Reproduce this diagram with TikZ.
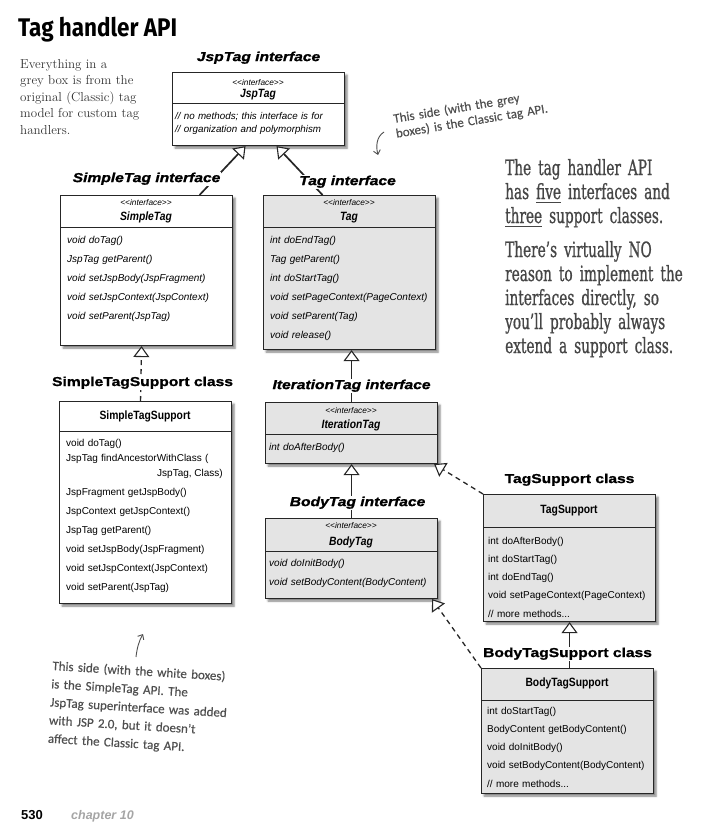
\documentclass[tikz,border=0pt]{standalone}
\usepackage{fontspec}
\usepackage{tikz}
\usetikzlibrary{arrows.meta,shadows.blur,positioning}
\newfontfamily\umlfont{Liberation Sans}
\newfontfamily\umlnarrow[FakeStretch=0.86]{Liberation Sans}
\newfontfamily\umlwide[FakeStretch=1.2,FakeBold=1.2]{Liberation Sans}
\newfontfamily\handfont[FakeBold=0.4]{Carlito}
\newfontfamily\notefont[FakeStretch=0.65,FakeBold=0.8]{DejaVu Serif}
\newfontfamily\titlefont[FakeStretch=0.88]{Fira Sans}
\definecolor{umlgrey}{RGB}{228,228,228}
\definecolor{umlline}{RGB}{38,38,38}
\definecolor{introgrey}{RGB}{50,50,50}
\definecolor{notegrey}{RGB}{70,70,70}
\definecolor{handgrey}{RGB}{80,80,80}
\definecolor{footgrey}{RGB}{165,165,165}
\newcommand{\handul}[1]{\leavevmode\setbox0\hbox{#1}\rlap{\raisebox{-4pt}{\color{notegrey}\rule{\wd0}{1.4pt}}}\box0\relax}
\newcommand{\stereotype}{\textless\textless interface\textgreater\textgreater}
\tikzstyle{umlbox} = [rectangle, draw=umlline, line width=1.1pt, fill=white, anchor=north west, inner sep=0pt, blur shadow={shadow xshift=2.5pt, shadow yshift=-2.5pt, shadow blur radius=2pt, shadow opacity=50}]
\tikzstyle{classic} = [umlbox, fill=umlgrey]
\tikzstyle{divider} = [draw=umlline, line width=1pt]
\tikzstyle{stereo} = [font=\umlfont\itshape\fontsize{8.3}{10}\selectfont, inner sep=0pt]
\tikzstyle{iname} = [font=\umlnarrow\bfseries\itshape\fontsize{12}{14}\selectfont, inner sep=0pt]
\tikzstyle{cname} = [font=\umlnarrow\bfseries\fontsize{12}{14}\selectfont, inner sep=0pt]
\tikzstyle{imeth} = [font=\umlfont\itshape\fontsize{10}{19}\selectfont, anchor=base west, align=left, text width=166, inner sep=0pt]
\tikzstyle{cmeth} = [font=\umlfont\fontsize{10}{19}\selectfont, anchor=base west, align=left, text width=166, inner sep=0pt]
\tikzstyle{ilabel} = [font=\umlwide\bfseries\itshape\fontsize{13}{15}\selectfont, fill=white, inner sep=1pt]
\tikzstyle{clabel} = [font=\umlwide\bfseries\fontsize{13}{15}\selectfont, fill=white, inner sep=1pt]
\tikzstyle{extends} = [line width=1.7pt, draw=umlline, -{Triangle[length=11pt, width=16pt, fill=white, line width=1.1pt]}]
\tikzstyle{implements} = [extends, line width=1.3pt, dash pattern=on 5pt off 4pt]
\tikzstyle{handnote} = [font=\handfont\fontsize{13}{15}\selectfont, text=handgrey, anchor=base west, align=left, text width=170, inner sep=0pt]
\tikzstyle{handarrow} = [line width=0.9pt, draw=handgrey, -{Straight Barb[length=4pt, width=7pt]}]
\tikzstyle{sidenote} = [font=\notefont\fontsize{21}{24}\selectfont, text=notegrey, anchor=base west, align=left, text width=205, inner sep=0pt]

\begin{document}
\begin{tikzpicture}[x=1pt, y=-1pt]
\useasboundingbox (0,0) rectangle (723,835);

% Title and intro
\node[font=\titlefont\bfseries\fontsize{25.5}{28}\selectfont, anchor=base west, inner sep=0pt] (title) at (18,36) {Tag handler API};
\node[font=\fontsize{13}{16.5}\selectfont, text=introgrey, anchor=base west, align=left, text width=160, inner sep=0pt] (intro) at (20,68) {Everything in a\\grey box is from the\\original (Classic) tag\\model for custom tag\\handlers.};

% JspTag
\node[umlbox, minimum width=172, minimum height=73] (jsptag) at (172,72) {};
\draw[divider] (172,103) -- (344,103);
\node[stereo] (jsptagst) at (258,83) {\stereotype};
\node[iname] (jsptagname) at (258,95) {JspTag};
\node[imeth, font=\umlfont\itshape\fontsize{9.8}{13}\selectfont] (jsptagm) at (175,119) {// no methods; this interface is for\\// organization and polymorphism};

% SimpleTag
\node[umlbox, minimum width=172, minimum height=150] (simpletag) at (60,195) {};
\draw[divider] (60,227) -- (232,227);
\node[stereo] (simpletagst) at (146,203) {\stereotype};
\node[iname] (simpletagname) at (146,217) {SimpleTag};
\node[imeth] (simpletagm) at (67,243) {void doTag()\\JspTag getParent()\\void setJspBody(JspFragment)\\void setJspContext(JspContext)\\void setParent(JspTag)};

% Tag
\node[classic, minimum width=172, minimum height=154] (tag) at (263,195) {};
\draw[divider] (263,227) -- (435,227);
\node[stereo] (tagst) at (349,203) {\stereotype};
\node[iname] (tagname) at (349,218) {Tag};
\node[imeth] (tagm) at (270,243) {int doEndTag()\\Tag getParent()\\int doStartTag()\\void setPageContext(PageContext)\\void setParent(Tag)\\void release()};

% SimpleTagSupport
\node[umlbox, minimum width=172, minimum height=202] (sts) at (59,401) {};
\draw[divider] (59,431) -- (231,431);
\node[cname] (stsname) at (145,416) {SimpleTagSupport};
\node[cmeth, font=\umlfont\fontsize{10}{15.5}\selectfont] (stsm) at (66,446) {void doTag()\\JspTag findAncestorWithClass (};
\node[cmeth, anchor=base east, text width=] (stsargs) at (223,476) {JspTag, Class)};
\node[cmeth] (stsmore) at (66,495) {JspFragment getJspBody()\\JspContext getJspContext()\\JspTag getParent()\\void setJspBody(JspFragment)\\void setJspContext(JspContext)\\void setParent(JspTag)};

% IterationTag
\node[classic, minimum width=172, minimum height=61] (itertag) at (265,402) {};
\draw[divider] (265,434) -- (437,434);
\node[stereo] (itertagst) at (351,411) {\stereotype};
\node[iname] (itertagname) at (351,425) {IterationTag};
\node[imeth] (itertagm) at (269,450) {int doAfterBody()};

% BodyTag
\node[classic, minimum width=172, minimum height=80] (bodytag) at (265,518) {};
\draw[divider] (265,551) -- (437,551);
\node[stereo] (bodytagst) at (351,526) {\stereotype};
\node[iname] (bodytagname) at (351,542) {BodyTag};
\node[imeth] (bodytagm) at (269,566) {void doInitBody()\\void setBodyContent(BodyContent)};

% TagSupport
\node[classic, minimum width=172, minimum height=127] (tagsupport) at (483,494) {};
\draw[divider] (483,527) -- (655,527);
\node[cname] (tagsupportname) at (569,511) {TagSupport};
\node[cmeth, font=\umlfont\fontsize{10}{18.3}\selectfont] (tagsupportm) at (488,544) {int doAfterBody()\\int doStartTag()\\int doEndTag()\\void setPageContext(PageContext)\\// more methods...};

% BodyTagSupport
\node[classic, minimum width=172, minimum height=125] (bts) at (481,668) {};
\draw[divider] (481,700) -- (653,700);
\node[cname] (btsname) at (567,683) {BodyTagSupport};
\node[cmeth, font=\umlfont\fontsize{10}{18.3}\selectfont] (btsm) at (487,714) {int doStartTag()\\BodyContent getBodyContent()\\void doInitBody()\\void setBodyContent(BodyContent)\\// more methods...};

% Inheritance
\draw[extends] ([xshift=53]simpletag.north) -- ([xshift=-13]jsptag.south);
\draw[extends] ([xshift=-27]tag.north) -- ([xshift=18]jsptag.south);
\draw[implements] ([xshift=-5]sts.north) -- ([xshift=-5]simpletag.south);
\draw[extends] (itertag.north) -- (itertag.north |- tag.south);
\draw[extends] (bodytag.north) -- (itertag.south);
\draw[implements] (tagsupport.north west) -- ([xshift=-4]itertag.south east);
\draw[extends] (bts.north -| tagsupport.south) -- (tagsupport.south);
\draw[implements] (bts.north west) -- ([xshift=-6]bodytag.south east);

% Box titles
\node[ilabel, above=7pt of jsptag] (jsptaglbl) {JspTag interface};
\node[ilabel, above=9pt of simpletag] (simpletaglbl) {SimpleTag interface};
\node[ilabel, above=6pt of tag, xshift=-2pt] (taglbl) {Tag interface};
\node[clabel, above=11pt of sts, xshift=-3pt] (stslbl) {SimpleTagSupport class};
\node[ilabel, above=9pt of itertag] (itertaglbl) {IterationTag interface};
\node[ilabel, above=8pt of bodytag, xshift=6pt] (bodytaglbl) {BodyTag interface};
\node[clabel, above=7pt of tagsupport] (tagsupportlbl) {TagSupport class};
\node[clabel, above=7pt of bts] (btslbl) {BodyTagSupport class};

% Side notes
\node[sidenote] (noteone) at (505,175) {The tag handler API\\has \handul{five} interfaces and\\\handul{three} support classes.};
\node[sidenote] (notetwo) at (505,257) {There’s virtually NO\\reason to implement the\\interfaces directly, so\\you’ll probably always\\extend a support class.};

% Handwritten remarks
\node[handnote, rotate=9.5] (classicnote) at (394,123) {This side (with the grey\\boxes) is the Classic tag API.};
\coordinate (classicfrom) at (384,132);
\coordinate (classicto) at (378,155);
\draw[handarrow] (classicfrom) .. controls (376,137) and (376,147) .. (classicto);
\node[handnote, rotate=-3.5, text width=190, font=\handfont\fontsize{13}{18.2}\selectfont] (simplenote) at (52,670) {This side (with the white boxes)\\is the SimpleTag API. The\\JspTag superinterface was added\\with JSP 2.0, but it doesn’t\\affect the Classic tag API.};
\coordinate (simplefrom) at (136,657);
\coordinate (simpleto) at (143,634);
\draw[handarrow] (simplefrom) .. controls (137,648) and (139,641) .. (simpleto);

% Footer
\node[font=\umlfont\bfseries\fontsize{13}{15}\selectfont, anchor=base west, inner sep=0pt] (pagenum) at (21,819) {530};
\node[font=\umlfont\bfseries\itshape\fontsize{12.5}{15}\selectfont, text=footgrey, anchor=base west, inner sep=0pt] (chapter) at (71,819) {chapter 10};
\end{tikzpicture}
\end{document}
